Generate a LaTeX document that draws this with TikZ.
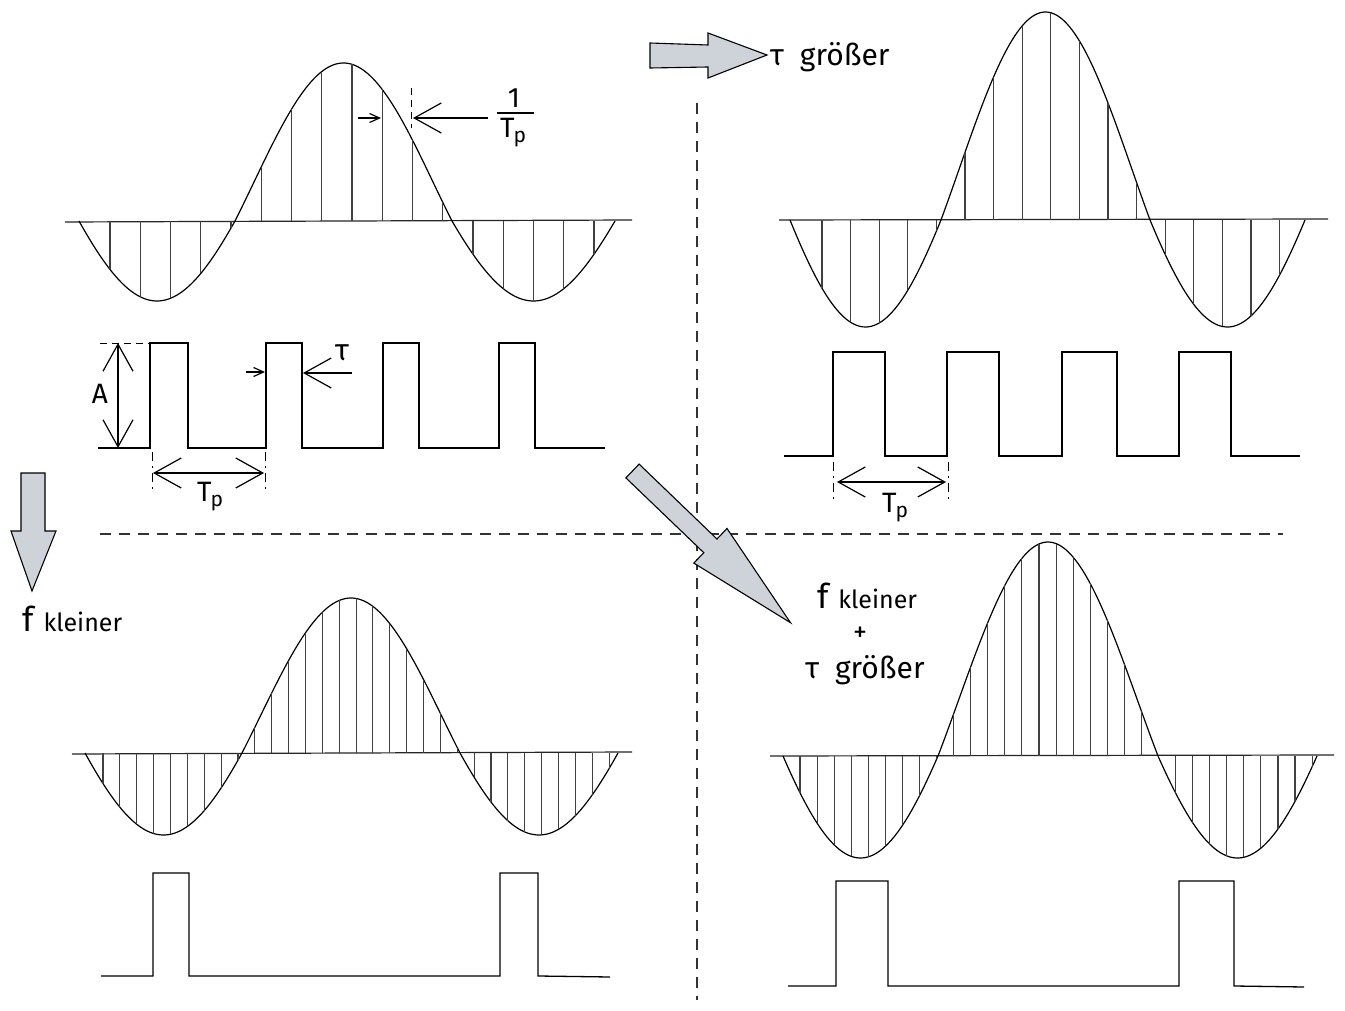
\documentclass[tikz,border=0pt]{standalone}
\usepackage{fontspec}
\setmainfont{Fira Sans}
\usetikzlibrary{arrows.meta}
\definecolor{arrowfill}{HTML}{CED3D9}
\newcommand\Tpsym{T\kern-1pt\raisebox{-5pt}{\fontsize{21}{21}\selectfont p}}
% #1 base y, #2 lowest y, #3 peak y, #4 start x, #5 1st crossing, #6 2nd crossing, #7 end x, #8 hatch list
\newcommand\drawwave[8]{%
  \pgfmathsetmacro\Wc{(#2+#3)/2}%
  \pgfmathsetmacro\Wa{(#2-#3)/2}%
  \pgfmathsetmacro\Wt{acos((\Wc-#1)/\Wa)}%
  \def\Wth##1{(((##1)<#5) ? (\Wt-360+((##1)-#4)/(#5-#4)*(360-2*\Wt)) : (((##1)<#6) ? (-\Wt+((##1)-#5)/(#6-#5)*2*\Wt) : (\Wt+((##1)-#6)/(#7-#6)*(360-2*\Wt))))}%
  \draw[wavecurve] plot[domain=#4:#7,samples=220] (\x,{\Wc-\Wa*cos(\Wth{\x})});
  \foreach \h in {#8}{\draw[hatchline] (\h,#1) -- (\h,{\Wc-\Wa*cos(\Wth{\h})});}%
}
\tikzset{
  wavecurve/.style={line width=1.2pt, black},
  hatchline/.style={line width=1.1pt, black!75},
  axisline/.style={line width=1.2pt, black!85},
  pulse/.style={line width=1.3pt, black, line join=miter},
  sep/.style={line width=1.1pt, black!80, dash pattern=on 11pt off 8pt},
  dimdot/.style={line width=0.9pt, dash pattern=on 9pt off 5pt on 2pt off 5pt},
  shortdash/.style={line width=0.9pt, dash pattern=on 7pt off 5pt},
  dimline/.style={line width=1.2pt},
  bigbarb/.style={-{Straight Barb[length=27pt,width=30pt]}},
  bothbarb/.style={{Straight Barb[length=27pt,width=30pt]}-{Straight Barb[length=27pt,width=30pt]}},
  smallbarb/.style={-{Straight Barb[length=10pt,width=9pt]}},
  blockarrow/.style={fill=arrowfill, draw=black, line width=1.1pt, line join=miter},
  lbl/.style={font=\fontsize{28}{32}\selectfont, inner sep=0pt},
  biglbl/.style={font=\fontsize{30}{34}\selectfont, inner sep=0pt},
}
\begin{document}
\begin{tikzpicture}[x=1pt,y=-1pt]
\useasboundingbox (0,0) rectangle (1345,1011);
\fill[white] (0,0) rectangle (1345,1011);

% separators
\coordinate (vTop) at (697,103); \coordinate (vBot) at (697,1000);
\coordinate (hL) at (100,534); \coordinate (hR) at (1283,534);
\draw[sep] (vTop) -- (vBot);
\draw[sep] (hL) -- (hR);

% ---------- top left ----------
\draw[axisline] (65,222) -- (632,220);
\drawwave{221}{301}{63}{79}{235}{452}{615}{110,140.25,...,594.5}
\draw[pulse] (98,448) -- (150,448) -- (150,343) -- (188,343) -- (188,448) -- (266,448) -- (266,343) -- (302,343) -- (302,448) -- (383,448) -- (383,343) -- (419,343) -- (419,448) -- (499,448) -- (499,343) -- (535,343) -- (535,448) -- (605,448);
\draw[shortdash] (100,343) -- (150,343);
\coordinate (aTop) at (118,343); \coordinate (aBot) at (118,448);
\draw[dimline,bothbarb] (aTop) -- (aBot);
\node[lbl] (labA) at (100,394) {A};
\draw[dimdot] (152,452) -- (152,492);
\draw[dimdot] (265,452) -- (265,492);
\coordinate (tpL) at (153,473); \coordinate (tpR) at (264,473);
\draw[dimline,bothbarb] (tpL) -- (tpR);
\node[lbl] (labTp) at (210,497) {\Tpsym};
\coordinate (tauA) at (246,372); \coordinate (tauB) at (265,372);
\draw[dimline,smallbarb] (tauA) -- (tauB);
\coordinate (tauC) at (352,373); \coordinate (tauD) at (303,373);
\draw[dimline,bigbarb] (tauC) -- (tauD);
\node[biglbl] (labTau) at (342,353) {τ};
% 1/Tp
\draw[shortdash] (411,88) -- (411,128);
\coordinate (fA) at (358,118); \coordinate (fB) at (381,118);
\draw[dimline,smallbarb] (fA) -- (fB);
\coordinate (fC) at (488,118); \coordinate (fD) at (413,118);
\draw[dimline,bigbarb] (fC) -- (fD);
\node[lbl] (fracNum) at (514,98) {1};
\coordinate (barL) at (497,113); \coordinate (barR) at (534,113);
\draw[line width=1.4pt] (barL) -- (barR);
\node[lbl] (fracDen) at (513,133) {\Tpsym};

% ---------- top right ----------
\draw[axisline] (779,220) -- (1328,219);
\drawwave{220}{327}{12}{790}{941}{1150}{1305}{822,850.6,...,1280.5}
\draw[pulse] (784,456) -- (833,456) -- (833,352) -- (885,352) -- (885,456) -- (947,456) -- (947,352) -- (999,352) -- (999,456) -- (1062,456) -- (1062,352) -- (1117,352) -- (1117,456) -- (1179,456) -- (1179,352) -- (1231,352) -- (1231,456) -- (1300,456);
\draw[dimdot] (833,462) -- (833,500);
\draw[dimdot] (948,462) -- (948,500);
\coordinate (tp2L) at (837,482); \coordinate (tp2R) at (946,482);
\draw[dimline,bothbarb] (tp2L) -- (tp2R);
\node[lbl] (labTp2) at (895,508) {\Tpsym};

% ---------- bottom left ----------
\draw[axisline] (72,754) -- (632,752);
\drawwave{753}{835}{598}{85}{242}{460}{618}{103,119.87,...,609.5}
\draw[pulse] (101,976) -- (153,976) -- (153,873) -- (189,873) -- (189,976) -- (500,976) -- (500,873) -- (538,873) -- (538,976) -- (610,977);

% ---------- bottom right ----------
\draw[axisline] (770,756) -- (1334,755);
\drawwave{756}{858}{542}{783}{938}{1158}{1317}{800,817.07,...,1312.5}
\draw[pulse] (788,986) -- (836,986) -- (836,881) -- (888,881) -- (888,986) -- (1179,986) -- (1179,881) -- (1234,881) -- (1234,986) -- (1304,987);

% ---------- block arrows ----------
\draw[blockarrow] (650,43) -- (708,45) -- (708,33) -- (767,55) -- (708,78) -- (708,67) -- (650,68) -- cycle;
\draw[blockarrow] (21,473) -- (45,473) -- (45,531) -- (56,531) -- (32,591) -- (11,531) -- (21,531) -- cycle;
\draw[blockarrow] (639.1,464.1) -- (717.0,539.0) -- (727.0,528.5) -- (790.5,622.7) -- (693.8,563.1) -- (703.8,552.7) -- (625.9,477.9) -- cycle;

% ---------- texts ----------
\node[biglbl, anchor=west] (txtTau) at (770,57) {τ\hspace{16pt}größer};
\node[lbl, anchor=west] (txtF) at (22,619) {{\fontsize{34}{34}\selectfont f}\hspace{10pt}{\fontsize{25}{28}\selectfont kleiner}};
\node[lbl] (txtF2) at (867,596) {{\fontsize{34}{34}\selectfont f}\hspace{10pt}{\fontsize{25}{28}\selectfont kleiner}};
\node[lbl] (txtPlus) at (860,634) {+};
\node[biglbl] (txtTau2) at (865,670) {τ\hspace{16pt}größer};
\end{tikzpicture}
\end{document}
